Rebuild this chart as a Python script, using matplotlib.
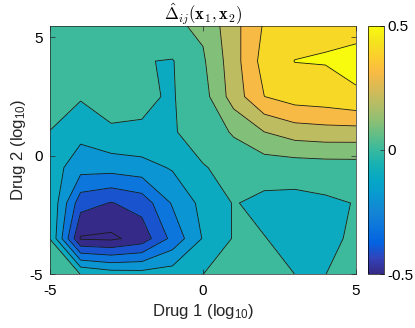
import numpy as np
import matplotlib
matplotlib.use('Agg')
import matplotlib.pyplot as plt
from matplotlib.colors import LinearSegmentedColormap, Normalize
from matplotlib.cm import ScalarMappable

plt.rcParams['font.family'] = 'Liberation Sans'
plt.rcParams['axes.unicode_minus'] = False
plt.rcParams['mathtext.fontset'] = 'custom'
plt.rcParams['mathtext.rm'] = 'Liberation Sans'
plt.rcParams['mathtext.it'] = 'Liberation Sans:italic'
plt.rcParams['mathtext.bf'] = 'Liberation Sans:bold'

# --- Daten --- #
drug1 = [-5, -4, -3, -2, -1, 0, 1, 2, 3, 4, 5]
drug2 = [-5, -3.5, -2, -0.5, 1, 2.5, 4, 5.5]

# Zeilen von unten (drug2=-5) nach oben (drug2=5.5)
delta_hat = [
    [0.05, -0.001, -0.05, -0.06, -0.05, -0.0005, 0.03, 0.05, -0.0005, -0.001, 0.04],
    [-0.001, -0.51, -0.52, -0.46, -0.27, -0.093, 0.0068, 0.0024, -0.024, -0.0276, 0.02],
    [-0.01, -0.36, -0.405, -0.36, -0.19, -0.07, 0.0051, -0.0218, -0.027, -0.0147, 0.0032],
    [-0.05, -0.16, -0.16, -0.14, -0.09, -0.002, 0.01, 0.041, 0.043, 0.05, 0.052],
    [-0.002, -0.069, -0.0098, -0.0062, -0.003, 0.015, 0.115, 0.199, 0.248, 0.26, 0.26],
    [0.04, 0.01, 0.03, 0.011, -0.0066, 0.06, 0.245, 0.399, 0.447, 0.46, 0.491],
    [0.05, 0.04, 0.03, 0.004, -0.005, 0.086, 0.257, 0.44, 0.502, 0.505, 0.519],
    [0.05, 0.05, 0.05, 0.06, 0.082, 0.12, 0.266, 0.41, 0.45, 0.485, 0.48],
]

line_levels = [-0.5, -0.4, -0.3, -0.2, -0.1, 0.0, 0.1, 0.2, 0.3, 0.4, 0.5]
fill_levels = [-0.6] + line_levels + [0.6]

# --- Parula (MATLAB) Farbskala --- #
parula_pts = [
    [0.2081, 0.1663, 0.5292], [0.1959, 0.2645, 0.7279], [0.0117, 0.3875, 0.8820],
    [0.0498, 0.4586, 0.8641], [0.0793, 0.5200, 0.8312], [0.0343, 0.5966, 0.8199],
    [0.0228, 0.6535, 0.7768], [0.0843, 0.6928, 0.7062], [0.2178, 0.7250, 0.6193],
    [0.3953, 0.7459, 0.5244], [0.5709, 0.7485, 0.4494], [0.7184, 0.7411, 0.3905],
    [0.8507, 0.7299, 0.3360], [0.9739, 0.7314, 0.2666], [0.9880, 0.8066, 0.1794],
    [0.9589, 0.8949, 0.1132], [0.9763, 0.9831, 0.0538],
]
parula_64 = LinearSegmentedColormap.from_list('parula', parula_pts, N=64)
parula_256 = LinearSegmentedColormap.from_list('parula', parula_pts, N=256)
norm = Normalize(vmin=-0.5, vmax=0.5)

# MATLAB-Stil: jede Fläche bekommt die Farbe ihres unteren Levels
band_colors = [parula_64(norm(max(lev, -0.5))) for lev in fill_levels[:-1]]

# --- Plot --- #
fig = plt.figure(figsize=(4.15, 3.28), dpi=100)
ax = fig.add_axes([50/415, 1 - 274/328, 306/415, 248.4/328])
cax = fig.add_axes([367.5/415, 1 - 274/328, 16/415, 248.4/328])

ax.contourf(drug1, drug2, delta_hat, levels=fill_levels, colors=band_colors)
ax.contour(drug1, drug2, delta_hat, levels=line_levels, colors='#1a1a1a',
           linewidths=0.6, linestyles='solid')

ax.set_xlim(-5, 5)
ax.set_ylim(-5, 5.5)
ax.set_xticks([-5, 0, 5])
ax.set_yticks([-5, 0, 5])
ax.tick_params(direction='in', top=True, right=True, length=3.5, width=0.5,
               labelsize=11, color='0.15')
ax.tick_params(axis='x', pad=7)
ax.tick_params(axis='y', pad=5)
for s in ax.spines.values():
    s.set_linewidth(0.5)
    s.set_color('0.15')

ax.set_xlabel('Drug 1 (log$_{\\mathrm{10}}$)', fontsize=12, labelpad=3, color='0.15')
ax.set_ylabel('Drug 2 (log$_{\\mathrm{10}}$)', fontsize=12, labelpad=1, color='0.15')
ax.set_title(r'$\hat{\Delta}_{ij}(\mathbf{x}_1,\mathbf{x}_2)$', math_fontfamily='cm',
             fontsize=12, pad=4)

cb = fig.colorbar(ScalarMappable(norm=norm, cmap=parula_256), cax=cax, ticks=[-0.5, 0, 0.5])
cb.ax.set_yticklabels(['-0.5', '0', '0.5'])
cb.ax.tick_params(direction='in', length=3, width=0.5, labelsize=11, pad=3, color='0.15')
cb.outline.set_linewidth(0.5)

fig.savefig('out.png', dpi=100)
